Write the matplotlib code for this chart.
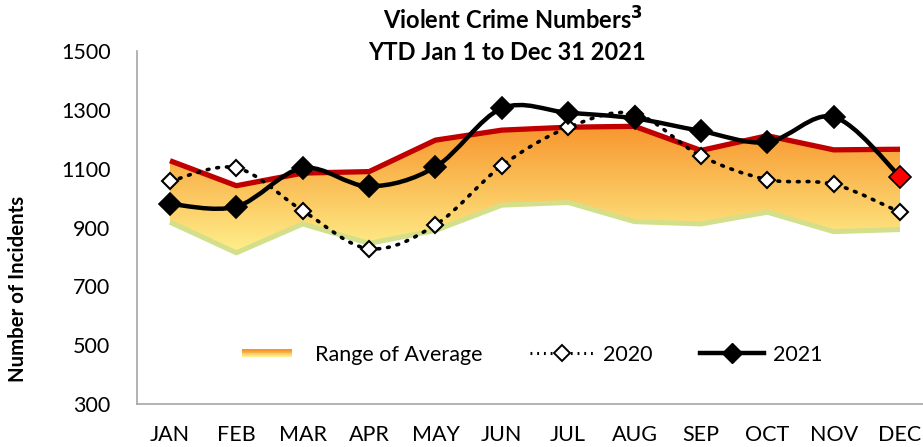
import matplotlib
matplotlib.use('Agg')
import matplotlib.pyplot as plt
import numpy as np
from matplotlib.path import Path
from matplotlib.patches import PathPatch, Rectangle
from matplotlib.colors import LinearSegmentedColormap
from matplotlib.lines import Line2D
from matplotlib.legend_handler import HandlerBase

plt.rcParams['font.family'] = ['Lato', 'DejaVu Sans']

months = ['JAN', 'FEB', 'MAR', 'APR', 'MAY', 'JUN', 'JUL', 'AUG', 'SEP', 'OCT', 'NOV', 'DEC']
avg_high = [1127, 1042, 1085, 1090, 1197, 1231, 1241, 1244, 1162, 1212, 1164, 1166]
avg_low = [918, 814, 912, 846, 890, 976, 985, 920, 912, 952, 886, 893]
y2020 = [1057, 1103, 957, 828, 909, 1110, 1240, 1287, 1143, 1063, 1047, 952]
y2021 = [980, 971, 1102, 1040, 1106, 1305, 1290, 1271, 1228, 1190, 1276, 1073]

x = np.arange(len(months))

# gradient for the average band
grad = LinearSegmentedColormap.from_list('grad', ['#FFF08C', '#FBC35C', '#F8962E'])


def smooth_path(xs, ys):
    # Catmull-Rom style bezier like Excel's "smoothed line"
    pts = np.column_stack([xs, ys]).astype(float)
    n = len(pts)
    verts = [pts[0]]
    codes = [Path.MOVETO]
    for i in range(n - 1):
        p0 = pts[i - 1] if i > 0 else pts[i]
        p1 = pts[i]
        p2 = pts[i + 1]
        p3 = pts[i + 2] if i + 2 < n else pts[i + 1]
        c1 = p1 + (p2 - p0) / 6.0
        c2 = p2 - (p3 - p1) / 6.0
        verts += [c1, c2, p2]
        codes += [Path.CURVE4] * 3
    return Path(verts, codes)


fig = plt.figure(figsize=(9.23, 4.47), dpi=100)
W, H = 923, 447
ux = (900 - 170) / 11.0
x0, x1 = -0.5, 11.5
left = 170 + x0 * ux
right = 170 + x1 * ux
ax = fig.add_axes([left / W, (H - 404) / H, (right - left) / W, (404 - 51) / H])
ax.set_xlim(x0, x1)
ax.set_ylim(300, 1500)

# gradient band
band = ax.fill_between(x, avg_low, avg_high, color='none', lw=0)
img = ax.imshow(np.linspace(0, 1, 256).reshape(-1, 1), cmap=grad, aspect='auto',
                extent=[0, 11, min(avg_low), max(avg_high)], origin='lower', zorder=1)
clip = PathPatch(band.get_paths()[0], transform=ax.transData, facecolor='none', edgecolor='none')
ax.add_patch(clip)
img.set_clip_path(clip)
ax.set_xlim(x0, x1)
ax.set_ylim(300, 1500)

ax.plot(x, avg_low, color='#D3DF8A', lw=3.6, zorder=2, solid_capstyle='butt')
ax.plot(x, avg_high, color='#C00000', lw=3.8, zorder=2, solid_capstyle='butt')

ax.add_patch(PathPatch(smooth_path(x, y2020), facecolor='none', edgecolor='black',
                       lw=2.6, linestyle=(0, (0.5, 2.2)), capstyle='round', zorder=3))
ax.plot(x, y2020, ls='none', marker='D', ms=8.5, mfc='white', mec='black', mew=1.5, zorder=4)

ax.add_patch(PathPatch(smooth_path(x, y2021), facecolor='none', edgecolor='black',
                       lw=3.2, zorder=5))
mcol = ['black'] * 11 + ['#FF0000']
for xi, yi, c in zip(x, y2021, mcol):
    ax.plot(xi, yi, ls='none', marker='D', ms=11, mfc=c, mec='black', mew=1.2, zorder=6)

ax.set_xticks(x)
ax.set_xticklabels(months)
ax.set_yticks(range(300, 1501, 200))
ax.tick_params(axis='both', length=0, labelsize=15.5)
ax.tick_params(axis='y', pad=19)
ax.tick_params(axis='x', pad=15)
for s in ax.spines.values():
    s.set_visible(False)
for k in ['left', 'bottom']:
    ax.spines[k].set_visible(True)
    ax.spines[k].set_color('#A6A6A6')
    ax.spines[k].set_linewidth(1.2)

fig.text(18 / W, 1 - 289 / H, 'Number of Incidents', rotation=90, ha='center', va='center',
         fontsize=14.7, fontweight='bold')
fig.text(513 / W, 1 - 20 / H, 'Violent Crime Numbers$^{\\mathbf{3}}$', ha='center', va='center',
         fontsize=17, fontweight='bold')
fig.text(507 / W, 1 - 53 / H, 'YTD Jan 1 to Dec 31 2021', ha='center', va='center',
         fontsize=17, fontweight='bold')


class GradHandler(HandlerBase):
    def create_artists(self, legend, orig, xd, yd, width, height, fontsize, trans):
        arts = []
        n = 8
        h = height * 0.5
        w = width * 0.78
        y0 = yd + (height - h) / 2
        for i in range(n):
            r = Rectangle((xd, y0 + h * i / n), w, h / n + 0.3, facecolor=grad(i / (n - 1)),
                          edgecolor='none', transform=trans)
            arts.append(r)
        return arts


h_avg = Rectangle((0, 0), 1, 1)
h20 = Line2D([], [], color='black', lw=2.2, ls=(0, (0.6, 1.6)), marker='D', ms=8, mfc='white', mec='black', mew=1.4)
h21 = Line2D([], [], color='black', lw=3.2, marker='D', ms=10, mfc='black', mec='black')
leg = fig.legend([h_avg, h20, h21], ['Range of Average', '2020', '2021'],
                 handler_map={Rectangle: GradHandler()}, ncol=3, frameon=False,
                 loc='center', bbox_to_anchor=(532 / W, 1 - 355 / H), fontsize=15.5,
                 handlelength=3.0, handletextpad=0.4, columnspacing=2.2)

fig.savefig('out.png', dpi=100)
